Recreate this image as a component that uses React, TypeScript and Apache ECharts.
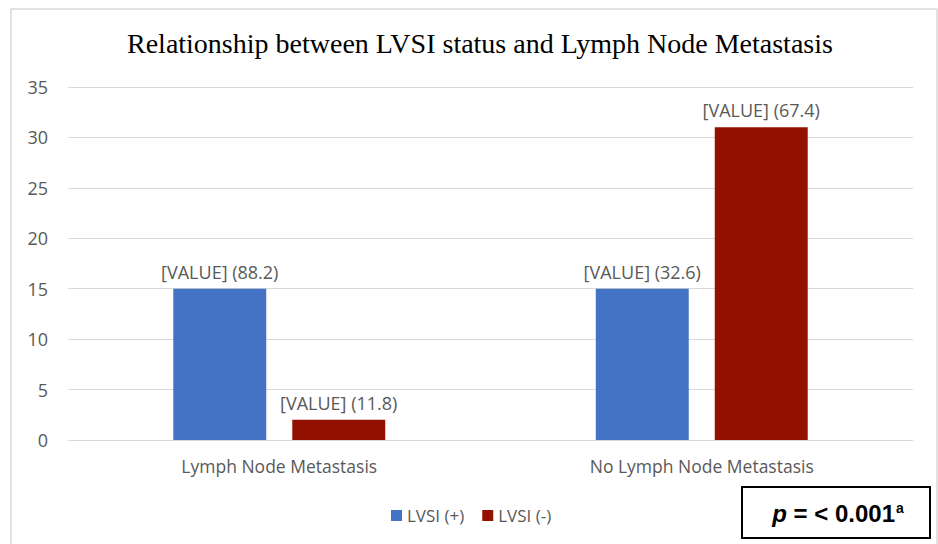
import React, { useEffect, useRef } from "react";
import * as echarts from "echarts";

const categories = ["Lymph Node Metastasis", "No Lymph Node Metastasis"];
const seriesNames = ["LVSI (+)", "LVSI (-)"];
const lvsiPos = [15, 15];
const lvsiNeg = [2, 31];
const lvsiPosPct = [88.2, 32.6];
const lvsiNegPct = [11.8, 67.4];
const title = "Relationship between LVSI status and Lymph Node Metastasis";

const labelFont = "'Open Sans', 'Noto Sans', sans-serif";

export default function App() {
  const ref = useRef<HTMLDivElement>(null);
  useEffect(() => {
    const chart = echarts.init(ref.current!, null, { renderer: "svg" });
    const mkLabel = (pcts: number[]) => ({
      show: true,
      position: "top",
      distance: 8,
      color: "#595959",
      fontFamily: labelFont,
      fontSize: 18,
      formatter: (p: any) => `[VALUE] (${pcts[p.dataIndex]})`,
    });
    chart.setOption({
      animation: false,
      backgroundColor: "#ffffff",
      title: {
        text: title,
        left: 122,
        top: 24,
        textStyle: {
          fontFamily: "'Liberation Serif', 'Times New Roman', serif",
          fontWeight: "normal",
          fontSize: 28,
          color: "#000000",
        },
      },
      grid: { left: 68, right: 25, top: 87, bottom: 104, containLabel: false },
      legend: {
        data: seriesNames,
        left: 386,
        top: 502,
        itemWidth: 11,
        itemHeight: 11,
        itemGap: 18,
        icon: "rect",
        textStyle: { color: "#595959", fontFamily: labelFont, fontSize: 17 },
      },
      xAxis: {
        type: "category",
        data: categories,
        axisLine: { show: true, lineStyle: { color: "#d9d9d9" } },
        axisTick: { show: false },
        axisLabel: { color: "#595959", fontFamily: labelFont, fontSize: 17.5, margin: 17 },
      },
      yAxis: {
        type: "value",
        min: 0,
        max: 35,
        interval: 5,
        axisLine: { show: false },
        axisTick: { show: false },
        splitLine: { lineStyle: { color: "#d9d9d9" } },
        axisLabel: { color: "#595959", fontFamily: labelFont, fontSize: 18, margin: 20 },
      },
      series: [
        {
          name: seriesNames[0],
          type: "bar",
          data: lvsiPos,
          barWidth: "22%",
          barGap: "28%",
          itemStyle: { color: "#4472C4" },
          label: mkLabel(lvsiPosPct),
        },
        {
          name: seriesNames[1],
          type: "bar",
          data: lvsiNeg,
          barWidth: "22%",
          itemStyle: { color: "#941100" },
          label: mkLabel(lvsiNegPct),
        },
      ],
      graphic: [
        {
          type: "rect",
          shape: { x: 11, y: 9, width: 926, height: 560 },
          style: { fill: "none", stroke: "#d9d9d9", lineWidth: 1.5 },
          silent: true,
        },
        {
          type: "rect",
          shape: { x: 742, y: 487, width: 188, height: 51 },
          style: { fill: "#ffffff", stroke: "#000000", lineWidth: 2 },
        },
        {
          type: "text",
          x: 838,
          y: 513,
          style: {
            text: "{p|p} = < 0.001{sup|a}",
            align: "center",
            verticalAlign: "middle",
            fontFamily: "'Liberation Sans', 'Open Sans', sans-serif",
            fontWeight: "bold",
            fontSize: 24,
            fill: "#000000",
            rich: {
              p: { fontStyle: "italic", fontWeight: "bold", fontSize: 24, fontFamily: "'Liberation Sans', sans-serif" },
              sup: { fontSize: 14, fontWeight: "bold", verticalAlign: "top", padding: [0, 0, 11, 1], fontFamily: "'Liberation Sans', sans-serif" },
            },
          },
        },
      ],
    });
    return () => chart.dispose();
  }, []);
  return (
    <div
      ref={ref}
      style={{ position: "fixed", left: 0, top: 0, width: 938, height: 544, background: "#fff" }}
    />
  );
}
